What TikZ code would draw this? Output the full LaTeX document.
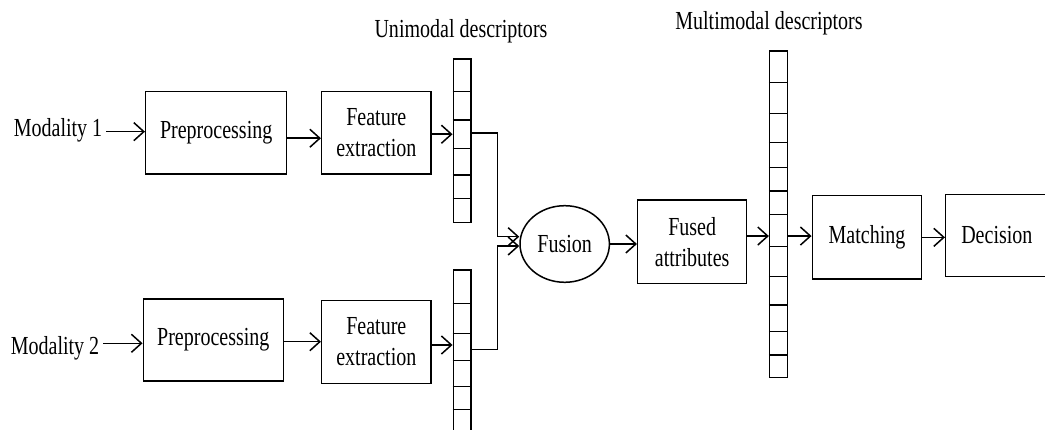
\documentclass[tikz,border=0pt]{standalone}
\usepackage{fontspec}
\setmainfont{Liberation Serif}[FakeStretch=0.77]
\usetikzlibrary{arrows.meta,shapes.geometric}
\begin{document}
\begin{tikzpicture}[x=1pt,y=-1pt,
  line width=1.5pt,
  every node/.style={font=\fontsize{26}{31}\selectfont},
  box/.style={draw,rectangle,inner sep=0pt,align=center},
  vec/.style={draw,rectangle,inner sep=0pt,minimum width=17.7pt},
  lbl/.style={inner sep=0pt,anchor=base},
  arr/.style={-{Straight Barb[length=10pt,width=18pt,line width=1.5pt]}}
]
\useasboundingbox (0,0) rectangle (1045,430);
\begin{scope}
\clip (0,0) rectangle (1045,430);
% labels
\node[lbl] (ulab) at (461,37.3) {Unimodal descriptors};
\node[lbl] (mlab) at (769,30) {Multimodal descriptors};
\node[lbl,anchor=base east,inner xsep=3pt] (m1) at (106,136.7) {Modality 1};
\node[lbl,anchor=base east,inner xsep=3pt] (m2) at (103,355) {Modality 2};
% boxes
\node[box,minimum width=141pt,minimum height=82.3pt] (pre1) at (216.2,132.85) {Preprocessing};
\node[box,minimum width=109.3pt,minimum height=82.3pt] (fe1) at (376.35,132.85) {Feature\\extraction};
\node[box,minimum width=140pt,minimum height=82pt] (pre2) at (213.3,340) {Preprocessing};
\node[box,minimum width=109.3pt,minimum height=82.6pt] (fe2) at (376.35,342) {Feature\\extraction};
\node[draw,ellipse,inner sep=0pt,minimum width=89.4pt,minimum height=76.6pt] (fusion) at (564.7,244) {Fusion};
\node[box,minimum width=109pt,minimum height=83.3pt] (fused) at (692.2,241.65) {Fused\\attributes};
\node[box,minimum width=109.4pt,minimum height=83.3pt] (match) at (867,237.35) {Matching};
\node[box,minimum width=102.3pt,minimum height=82.4pt] (dec) at (996.85,235.5) {Decision};
% descriptor vectors
\node[vec,minimum height=163.3pt] (col1) at (462.15,140.65) {};
\node[vec,minimum height=190pt] (col2) at (462.15,365) {};
\node[vec,minimum height=326.7pt] (col3) at (778.5,214.35) {};
\foreach \y in {91.7,120,148.3,175,198.3}
  \draw (col1.west |- 0,\y) -- (col1.east |- 0,\y);
\foreach \y in {303.3,333.3,360.7,386.7,409.3}
  \draw (col2.west |- 0,\y) -- (col2.east |- 0,\y);
\foreach \y in {82.7,113.3,142.7,167.7,191,214.3,246.7,276.7,305,331.7,355}
  \draw (col3.west |- 0,\y) -- (col3.east |- 0,\y);
% connector coordinates
\path (pre1.west) ++(0,-1.2) coordinate (a1);
\path (pre1.east) ++(0,5.4) coordinate (p1);
\path (fe1.east) ++(0,1.4) coordinate (e1);
\path (fe1.east -| col1.east) ++(0,0.4) coordinate (o1);
\path (pre2.west) ++(0,3.3) coordinate (a2);
\path (pre2.east) ++(0,1.7) coordinate (p2);
\path (fe2.east) ++(0,3) coordinate (e2);
\path (fe2.east -| col2.east) ++(0,7.3) coordinate (o2);
\path (fused.east) ++(0,-5.6) coordinate (f3);
% arrows
\draw[arr] (a1 -| m1.east) -- (a1);
\draw[arr] (p1) -- (p1 -| fe1.west);
\draw[arr] (e1) -- (e1 -| col1.west);
\draw[arr] (a2 -| m2.east) -- (a2);
\draw[arr] (p2) -- (p2 -| fe2.west);
\draw[arr] (e2) -- (e2 -| col2.west);
\draw[arr] (o1) -- ++(25.7,0) |- ([yshift=7.3pt]fusion.west);
\draw[arr] (o2) -- ++(25.7,0) |- ([yshift=-2pt]fusion.west);
\draw[arr] (fusion.east) -- (fusion.east -| fused.west);
\draw[arr] (f3) -- (f3 -| col3.west);
\draw[arr] (f3 -| col3.east) -- (f3 -| match.west);
\draw[arr] (match.east) -- (match.east -| dec.west);
\end{scope}
\end{tikzpicture}
\end{document}
